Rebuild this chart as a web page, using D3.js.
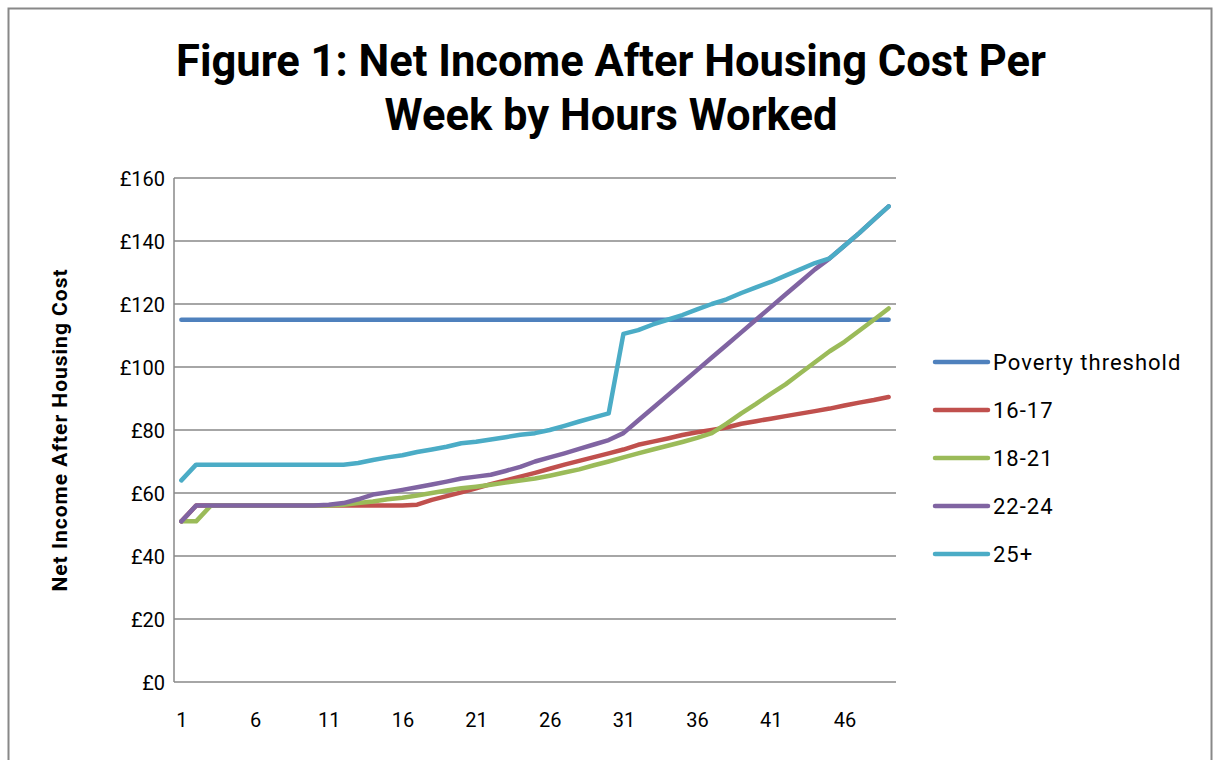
<!DOCTYPE html>
<html>
<head>
<meta charset="utf-8">
<script src="https://cdn.jsdelivr.net/npm/d3@7"></script>
<style>
  body { margin: 0; background: #fff; }
  text { font-family: "Roboto", "Open Sans", sans-serif; fill: #000; }
</style>
</head>
<body>
<svg></svg>
<script>
var width = 1213,
	height = 760;

// hours worked (category axis)
var hours = d3.range(1, 50);
var xTickLabels = [1, 6, 11, 16, 21, 26, 31, 36, 41, 46];
var yTicks = [0, 20, 40, 60, 80, 100, 120, 140, 160];

var seriesNames = ["Poverty threshold", "16-17", "18-21", "22-24", "25+"];
var seriesColors = ["#4F81BD", "#C0504D", "#9BBB59", "#8064A2", "#4BACC6"];

var poverty = [115,115,115,115,115,115,115,115,115,115,115,115,115,115,115,115,115,115,115,115,115,115,115,115,115,
	115,115,115,115,115,115,115,115,115,115,115,115,115,115,115,115,115,115,115,115,115,115,115,115];
var age1617 = [51,56,56,56,56,56,56,56,56,56,56,56,56,56,56,56,56.3,57.8,59,60.2,61.5,62.8,64,65.2,66.4,
	67.7,69,70.2,71.4,72.6,73.8,75.3,76.3,77.3,78.4,79.3,80,80.8,82,82.8,83.6,84.4,85.2,86,86.8,87.8,88.7,89.5,90.5];
var age1821 = [51,51,56,56,56,56,56,56,56,56,56,56.3,56.8,57.3,58,58.5,59.2,60,60.8,61.5,62,62.6,63.3,64,64.6,
	65.5,66.5,67.5,68.8,70,71.3,72.6,73.8,75,76.2,77.5,79,82,85.3,88.3,91.5,94.5,98,101.5,105,108,111.5,115,118.6];
var age2224 = [51,56,56,56,56,56,56,56,56,56,56.3,56.8,58,59.5,60.2,61,61.8,62.7,63.6,64.6,65.2,65.8,67,68.3,70,
	71.3,72.6,74,75.4,76.8,79,83,87,91,95,99,103,107,111,115,119,123,127,131,134.5,138.5,142.5,146.8,151];
var age25 = [64,69,69,69,69,69,69,69,69,69,69,69,69.5,70.5,71.3,72,73,73.8,74.7,75.8,76.3,77,77.7,78.5,79,
	80,81.3,82.7,84,85.3,110.5,111.7,113.5,115,116.5,118.3,120,121.5,123.5,125.3,127,129,131,133,134.5,
	138.5,142.5,146.8,151];

var seriesValues = [poverty, age1617, age1821, age2224, age25];

var svg = d3.select("svg")
			.attr("width", width)
			.attr("height", height);

// chart border
svg.append("rect")
	.attr("x", 8.5)
	.attr("y", 8.5)
	.attr("width", 1203)
	.attr("height", 770)
	.attr("fill", "none")
	.attr("stroke", "#888")
	.attr("stroke-width", 2);

var plot = {left: 174, top: 178, right: 896, bottom: 682};

var x = d3.scalePoint()
		.domain(hours)
		.range([plot.left, plot.right])
		.padding(0.5);
var y = d3.scaleLinear()
		.domain([0, 160])
		.range([plot.bottom, plot.top]);

// title
svg.append("text")
	.attr("x", 611)
	.attr("y", 76)
	.attr("text-anchor", "middle")
	.style("font-size", "43.5px")
	.style("font-weight", "bold")
	.text("Figure 1: Net Income After Housing Cost Per");
svg.append("text")
	.attr("x", 611)
	.attr("y", 130)
	.attr("text-anchor", "middle")
	.style("font-size", "43.5px")
	.style("font-weight", "bold")
	.text("Week by Hours Worked");

// gridlines
svg.append("g")
	.selectAll("line")
	.data(yTicks)
	.enter()
	.append("line")
	.attr("x1", plot.left)
	.attr("x2", plot.right)
	.attr("y1", function(d) { return y(d); })
	.attr("y2", function(d) { return y(d); })
	.attr("stroke", "#888")
	.attr("stroke-width", 1.5);

svg.append("line")
	.attr("x1", plot.left)
	.attr("x2", plot.left)
	.attr("y1", plot.top)
	.attr("y2", plot.bottom)
	.attr("stroke", "#888")
	.attr("stroke-width", 1.5);

// y axis labels
var yAxis = d3.axisLeft(y)
		.tickValues(yTicks)
		.tickSize(0)
		.tickPadding(9)
		.tickFormat(function(d) { return "£" + d; });
var gy = svg.append("g")
	.attr("transform", "translate(" + plot.left + ",0)")
	.call(yAxis);
gy.select(".domain").remove();
gy.selectAll("text")
	.style("font-size", "20px")
	.attr("dy", "0.35em");

// x axis labels
var xAxis = d3.axisBottom(x)
		.tickValues(xTickLabels)
		.tickSize(0)
		.tickPadding(31);
var gx = svg.append("g")
	.attr("transform", "translate(0," + plot.bottom + ")")
	.call(xAxis);
gx.select(".domain").remove();
gx.selectAll("text")
	.style("font-size", "20px");

// y axis title
svg.append("text")
	.attr("transform", "translate(67," + ((plot.top + plot.bottom) / 2) + ") rotate(-90)")
	.attr("text-anchor", "middle")
	.style("font-size", "21px")
	.style("font-weight", "bold")
	.style("letter-spacing", "1px")
	.text("Net Income After Housing Cost");

// series lines
var line = d3.line()
		.x(function(d, i) { return x(hours[i]); })
		.y(function(d) { return y(d); });

svg.append("g")
	.selectAll("path")
	.data(seriesValues)
	.enter()
	.append("path")
	.attr("d", function(d) { return line(d); })
	.attr("fill", "none")
	.attr("stroke", function(d, i) { return seriesColors[i]; })
	.attr("stroke-width", 4.5)
	.attr("stroke-linejoin", "round")
	.attr("stroke-linecap", "round");

// legend
var legend = svg.append("g")
		.selectAll("g")
		.data(seriesNames)
		.enter()
		.append("g")
		.attr("transform", function(d, i) { return "translate(935," + (362 + i * 48) + ")"; });
legend.append("line")
	.attr("x1", 0)
	.attr("x2", 53)
	.attr("stroke", function(d, i) { return seriesColors[i]; })
	.attr("stroke-width", 4.5)
	.attr("stroke-linecap", "round");
legend.append("text")
	.attr("x", 58)
	.attr("dy", "0.35em")
	.style("font-size", "22px")
	.style("letter-spacing", "1px")
	.text(function(d) { return d; });
</script>
</body>
</html>
